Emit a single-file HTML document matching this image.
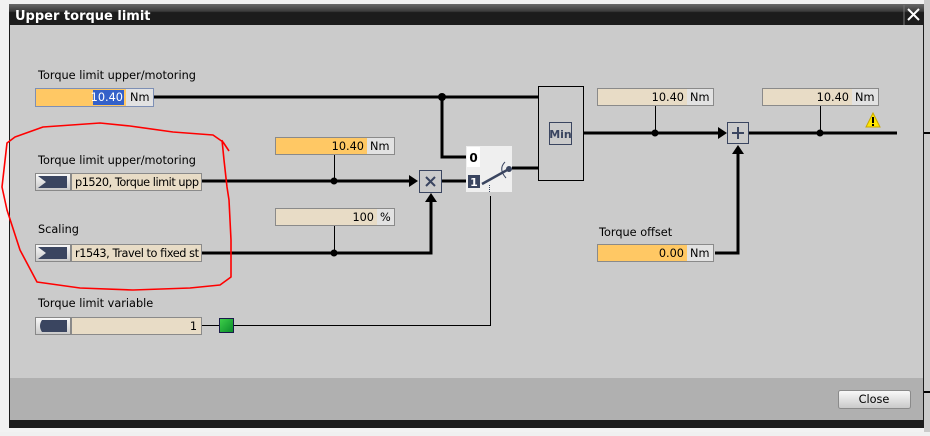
<!DOCTYPE html>
<html><head><meta charset="utf-8"><style>
body{margin:0;width:930px;height:432px;overflow:hidden;background:#f0f0f0;font-family:"DejaVu Sans","Liberation Sans",sans-serif;}
</style></head><body>
<svg width="930" height="432" xmlns="http://www.w3.org/2000/svg" font-family="DejaVu Sans, Liberation Sans, sans-serif" font-size="11.3">
<defs>
<linearGradient id="tb" x1="0" y1="0" x2="0" y2="1"><stop offset="0" stop-color="#6a6a6a"/><stop offset="0.35" stop-color="#3a3a3a"/><stop offset="0.4" stop-color="#1c1c1c"/><stop offset="1" stop-color="#1c1c1c"/></linearGradient>
<linearGradient id="btn" x1="0" y1="0" x2="0" y2="1"><stop offset="0" stop-color="#fafafa"/><stop offset="1" stop-color="#c8c8c8"/></linearGradient>
<linearGradient id="grn" x1="0" y1="0" x2="1" y2="1"><stop offset="0" stop-color="#3fd14a"/><stop offset="1" stop-color="#0a8a2a"/></linearGradient>
</defs>
<rect x="0" y="0" width="930" height="432" fill="#f2f2f2"/>
<rect x="9" y="4" width="915" height="424" fill="#1c1c1c"/>
<rect x="9" y="4" width="915" height="21" fill="url(#tb)"/>
<text x="15" y="20" fill="#fff" font-weight="bold" font-size="13">Upper torque limit</text>
<line x1="904" y1="5" x2="904" y2="25" stroke="#777"/>
<path d="M908 9 L919 20 M919 9 L908 20" stroke="#fff" stroke-width="2"/>
<rect x="10" y="25" width="913" height="353" fill="#cbcbcb"/>
<rect x="10" y="378" width="913" height="42" fill="#b0b0b0"/>
<rect x="924" y="0" width="6" height="432" fill="#cbcbcb"/>
<line x1="924" y1="133" x2="930" y2="133" stroke="#000" stroke-width="2"/>
<line x1="924" y1="392" x2="930" y2="392" stroke="#000" stroke-width="2"/>
<rect x="838.5" y="390.5" width="72" height="18" rx="2" fill="url(#btn)" stroke="#8a8a8a"/>
<text x="874" y="403" text-anchor="middle">Close</text>

<text x="38" y="79">Torque limit upper/motoring</text>
<text x="38" y="164">Torque limit upper/motoring</text>
<text x="38" y="233">Scaling</text>
<text x="38" y="307">Torque limit variable</text>
<text x="599" y="236">Torque offset</text>

<rect x="35.5" y="88.5" width="118" height="18" fill="#e2e2e2" stroke="#7d8fb5"/>
<rect x="36" y="89" width="90" height="17" fill="#ffc864"/>
<rect x="93" y="90" width="31" height="15" fill="#3461c9"/>
<text x="123" y="101" text-anchor="end" fill="#fff">10.40</text>
<text x="130" y="101">Nm</text>

<g stroke="#000" stroke-width="3" fill="none">
<path d="M154 97 H538"/>
<path d="M442 97 V157 H467"/>
<path d="M202 181 H414"/>
<path d="M441 181 H467"/>
<path d="M202 253 H431 V198"/>
<path d="M512 168 H538"/>
<path d="M584 133 H724"/>
<path d="M748 133 H897"/>
<path d="M715 253 H738 V150"/>
</g>
<g fill="#000">
<path d="M418 181 L409 175 L409 187Z"/>
<path d="M431 193 L425 202 L437 202Z"/>
<path d="M727 133 L718 127 L718 139Z"/>
<path d="M738 145 L732 154 L744 154Z"/>
<circle cx="442" cy="97" r="4"/>
<circle cx="334" cy="181" r="3.5"/>
<circle cx="334" cy="253" r="3.5"/>
<circle cx="655" cy="133" r="3.5"/>
<circle cx="820" cy="133" r="3.5"/>
</g>
<g stroke="#000" stroke-width="1" fill="none">
<path d="M334.5 154 V181"/>
<path d="M334.5 226 V253"/>
<path d="M655.5 106 V133"/>
<path d="M820.5 106 V133"/>
<path d="M202 325.5 H219"/>
<path d="M234 325.5 H490.5 V196"/>
</g>

<rect x="275.5" y="137.5" width="119" height="17" fill="#e2e2e2" stroke="#8a8a8a"/>
<rect x="276" y="138" width="91" height="16" fill="#ffc864"/>
<text x="364" y="150" text-anchor="end">10.40</text><text x="370" y="150">Nm</text>
<rect x="275.5" y="208.5" width="119" height="17" fill="#e2e2e2" stroke="#8a8a8a"/>
<rect x="276" y="209" width="101" height="16" fill="#e8dcc6"/>
<text x="374" y="221" text-anchor="end">100</text><text x="380" y="221">%</text>
<rect x="597.5" y="88.5" width="116" height="17" fill="#e2e2e2" stroke="#8a8a8a"/>
<rect x="598" y="89" width="89" height="16" fill="#e8dcc6"/>
<text x="684" y="101" text-anchor="end">10.40</text><text x="690" y="101">Nm</text>
<rect x="762.5" y="88.5" width="116" height="17" fill="#e2e2e2" stroke="#8a8a8a"/>
<rect x="763" y="89" width="89" height="16" fill="#e8dcc6"/>
<text x="849" y="101" text-anchor="end">10.40</text><text x="855" y="101">Nm</text>
<rect x="597.5" y="244.5" width="116" height="17" fill="#e2e2e2" stroke="#8a8a8a"/>
<rect x="598" y="245" width="89" height="16" fill="#ffc864"/>
<text x="684" y="257" text-anchor="end">0.00</text><text x="690" y="257">Nm</text>

<path d="M873 113 L880 127 L866 127Z" fill="#ffe600" stroke="#c8a800"/>
<rect x="872" y="117" width="2" height="6" fill="#000"/><rect x="872" y="124" width="2" height="2" fill="#000"/>

<g>
<rect x="35.5" y="173.5" width="35" height="17" fill="url(#btn)" stroke="#888"/>
<path d="M38 176 H67 V188 H38 L46 182Z" fill="#3a4560"/>
<rect x="71.5" y="173.5" width="130" height="17" fill="#e8dcc6" stroke="#8a8a8a"/>
<text x="75" y="186" textLength="124">p1520, Torque limit upp</text>
<rect x="35.5" y="244.5" width="35" height="17" fill="url(#btn)" stroke="#888"/>
<path d="M38 247 H67 V259 H38 L46 253Z" fill="#3a4560"/>
<rect x="71.5" y="244.5" width="130" height="17" fill="#e8dcc6" stroke="#8a8a8a"/>
<text x="75" y="257" textLength="124">r1543, Travel to fixed st</text>
<rect x="35.5" y="317.5" width="35" height="17" fill="url(#btn)" stroke="#888"/>
<path d="M38 320 H67 V332 H42 Q38 326 42 320Z" fill="#3a4560"/>
<rect x="71.5" y="317.5" width="130" height="17" fill="#e8dcc6" stroke="#8a8a8a"/>
<text x="197" y="330" text-anchor="end">1</text>
<rect x="219.5" y="318.5" width="14" height="14" fill="url(#grn)" stroke="#1a1a4a"/>
</g>

<rect x="419.5" y="170.5" width="22" height="22" fill="#cbcbcb" stroke="#3a4560"/>
<path d="M426 177 L435 186 M435 177 L426 186" stroke="#3a4560" stroke-width="2"/>
<rect x="727.5" y="122.5" width="21" height="21" fill="#cbcbcb" stroke="#3a4560"/>
<path d="M738 127 V139 M732 133 H744" stroke="#3a4560" stroke-width="2"/>
<rect x="538.5" y="86.5" width="45" height="94" fill="#cbcbcb" stroke="#000"/>
<rect x="549.5" y="122.5" width="22" height="22" fill="#cbcbcb" stroke="#3a4560"/>
<text x="560.5" y="138" text-anchor="middle" fill="#3a4560" font-weight="bold" font-size="11">Min</text>
<rect x="466" y="146" width="46" height="46" fill="#efefef"/>
<rect x="467" y="147" width="13" height="20" fill="#fff"/>
<text x="473.5" y="162" text-anchor="middle" font-weight="bold" font-size="12">0</text>
<rect x="468" y="175" width="12" height="13" fill="#3a4560"/>
<text x="474" y="186" text-anchor="middle" font-weight="bold" font-size="11" fill="#fff">1</text>
<line x1="482" y1="184" x2="509" y2="169" stroke="#3a4560" stroke-width="2.5"/>
<circle cx="509" cy="169" r="3" fill="#3a4560"/>
<path d="M505 162 Q498 169 506 178" stroke="#3a4560" fill="none"/>
<line x1="489.5" y1="185" x2="489.5" y2="192" stroke="#3a4560" stroke-dasharray="1,1"/>

<path d="M229 151 L223 142 L213 135 L173 132 L130 126 L100 123 L43 127 L15 137 L7 143 L2 187 L7 210 L20 250 L37 282 L80 288 L133 290 L190 288 L220 285 L231 277 L231 240 L229 200 L227 187 L224 160 L222 140" fill="none" stroke="#f00" stroke-width="1.6" stroke-linejoin="round"/>
</svg>
</body></html>
